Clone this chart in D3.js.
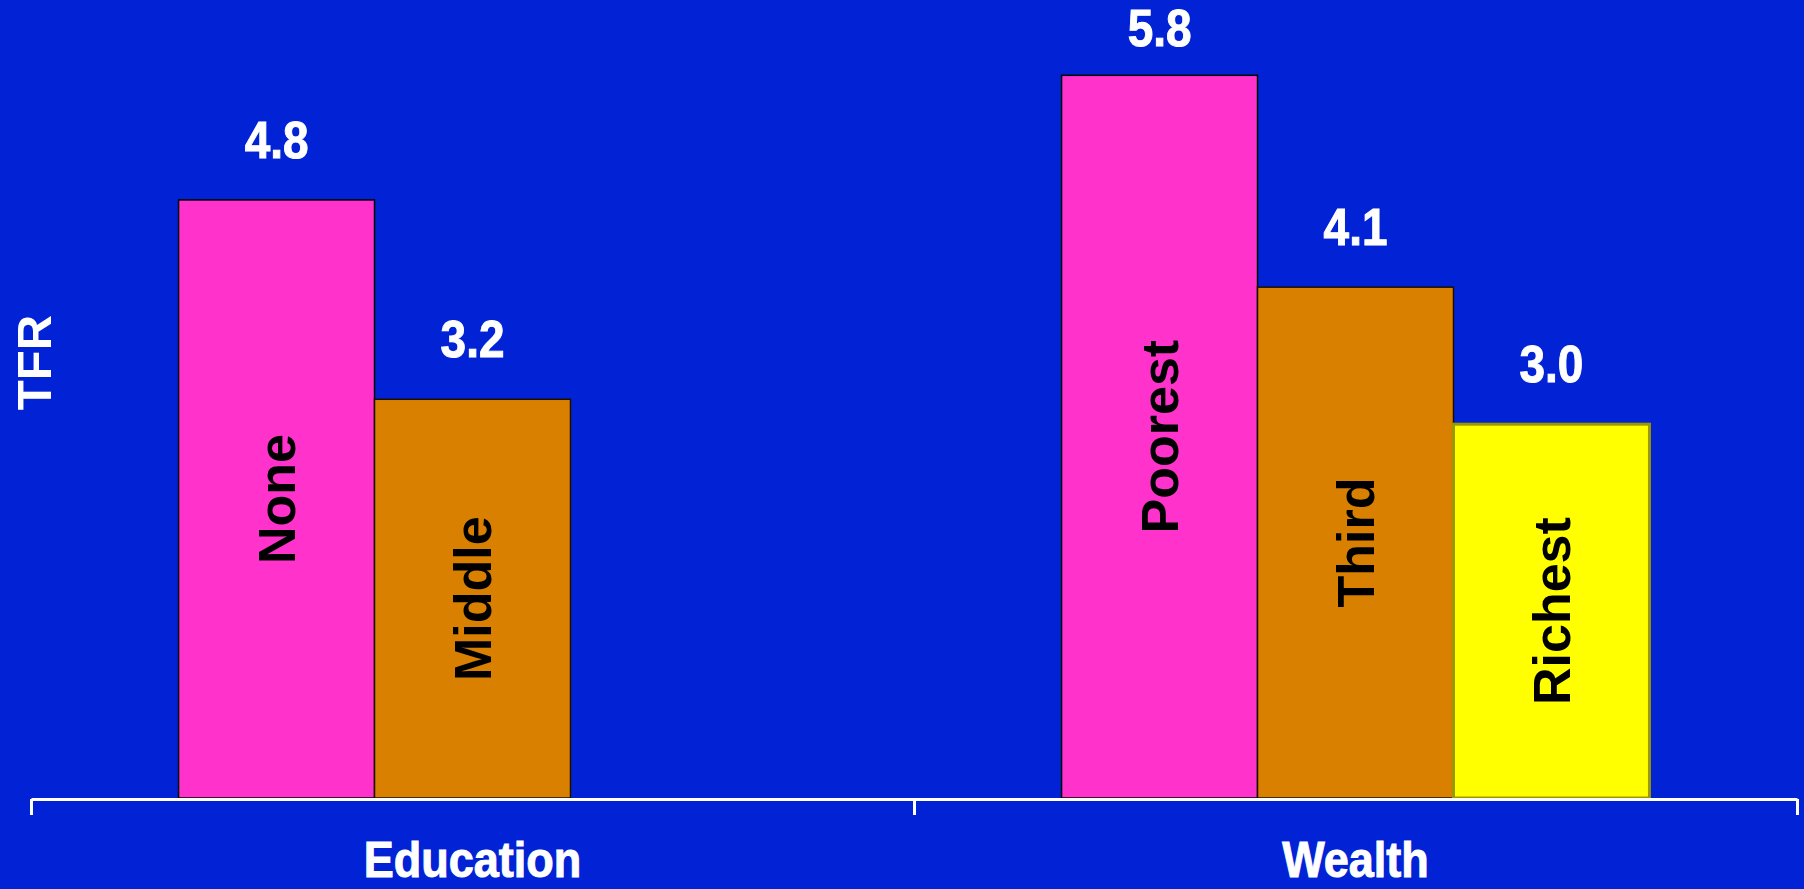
<!DOCTYPE html>
<html>
<head>
<meta charset="utf-8">
<script src="https://cdn.jsdelivr.net/npm/d3@7"></script>
<style>
  html, body { margin: 0; padding: 0; background: #0223d5; overflow: hidden; }
  svg { display: block; }
  text { font-family: "Liberation Sans", Arial, Helvetica, sans-serif; font-weight: bold; }
</style>
</head>
<body>
<svg id="chart" width="1804" height="889"></svg>
<script>
// ---- data ----
const groups = ["Education", "Wealth"];
const educationLabels = ["None", "Middle"];
const educationValues = [4.8, 3.2];
const wealthLabels = ["Poorest", "Third", "Richest"];
const wealthValues = [5.8, 4.1, 3.0];
const valueFormat = ".1f";
const yAxisTitle = "TFR";

// ---- styling ----
const slotFill = ["#ff33cc", "#d98000", "#ffff00"];
const slotStroke = ["#000000", "#1a1000", "#9a9a00"];
const slotStrokeWidth = [1.5, 1.5, 3];

const W = 1804, H = 889;
const svg = d3.select("#chart");
svg.append("rect").attr("width", W).attr("height", H).attr("fill", "#0223d5");

const rows = [];
educationLabels.forEach((l, i) => rows.push({group: "Education", slot: i, label: l, value: educationValues[i]}));
wealthLabels.forEach((l, i) => rows.push({group: "Wealth", slot: i, label: l, value: wealthValues[i]}));

const x0 = d3.scaleBand().domain(groups).range([31, 1797]).padding(0);
const x1 = d3.scaleBand().domain([0, 1, 2]).range([0, x0.bandwidth()]).paddingInner(0).paddingOuter(0.753);
const y = d3.scaleLinear().domain([0, 6]).range([798, 50.4]);

// bars
const g = svg.append("g");
const bars = g.selectAll("g.bar").data(rows).join("g").attr("class", "bar");
bars.append("rect")
  .attr("x", d => x0(d.group) + x1(d.slot))
  .attr("y", d => y(d.value))
  .attr("width", x1.bandwidth())
  .attr("height", d => y(0) - y(d.value))
  .attr("fill", d => slotFill[d.slot])
  .attr("stroke", d => slotStroke[d.slot])
  .attr("stroke-width", d => slotStrokeWidth[d.slot]);

// category labels inside bars (rotated)
bars.append("text")
  .attr("transform", d => `translate(${x0(d.group) + x1(d.slot) + x1.bandwidth() / 2},${(y(d.value) + y(0)) / 2}) rotate(-90)`)
  .attr("text-anchor", "middle")
  .attr("dy", "0.36em")
  .attr("font-size", 52)
  .attr("fill", "#000")
  .text(d => d.label);

// value labels (kept inside the top of the picture)
bars.append("text")
  .attr("transform", d => `translate(${x0(d.group) + x1(d.slot) + x1.bandwidth() / 2},${Math.max(y(d.value) - 42, 46)}) scale(0.9,1)`)
  .attr("text-anchor", "middle")
  .attr("font-size", 51)
  .attr("fill", "#fff")
  .attr("stroke", "#fff")
  .attr("stroke-width", 1)
  .text(d => d3.format(valueFormat)(d.value));

// x axis with group-boundary ticks
const xb = d3.scaleLinear().domain([0, groups.length]).range(x0.range());
const axis = d3.axisBottom(xb).tickValues(d3.range(groups.length + 1)).tickFormat("").tickSize(16).tickSizeOuter(0);
const ax = svg.append("g").attr("transform", "translate(0,799)").call(axis);
ax.select(".domain").attr("stroke", "#fff").attr("stroke-width", 3);
ax.selectAll(".tick line").attr("stroke", "#fff").attr("stroke-width", 3);

// group labels
svg.selectAll("text.group").data(groups).join("text")
  .attr("class", "group")
  .attr("transform", d => `translate(${x0(d) + x0.bandwidth() / 2},877) scale(0.9,1)`)
  .attr("text-anchor", "middle")
  .attr("font-size", 50)
  .attr("fill", "#fff")
  .attr("stroke", "#fff")
  .attr("stroke-width", 1)
  .text(d => d);

// y axis title
svg.append("text")
  .attr("transform", "translate(33,362.5) rotate(-90)")
  .attr("text-anchor", "middle")
  .attr("dy", "0.36em")
  .attr("font-size", 49)
  .attr("fill", "#fff")
  .text(yAxisTitle);
</script>
</body>
</html>
